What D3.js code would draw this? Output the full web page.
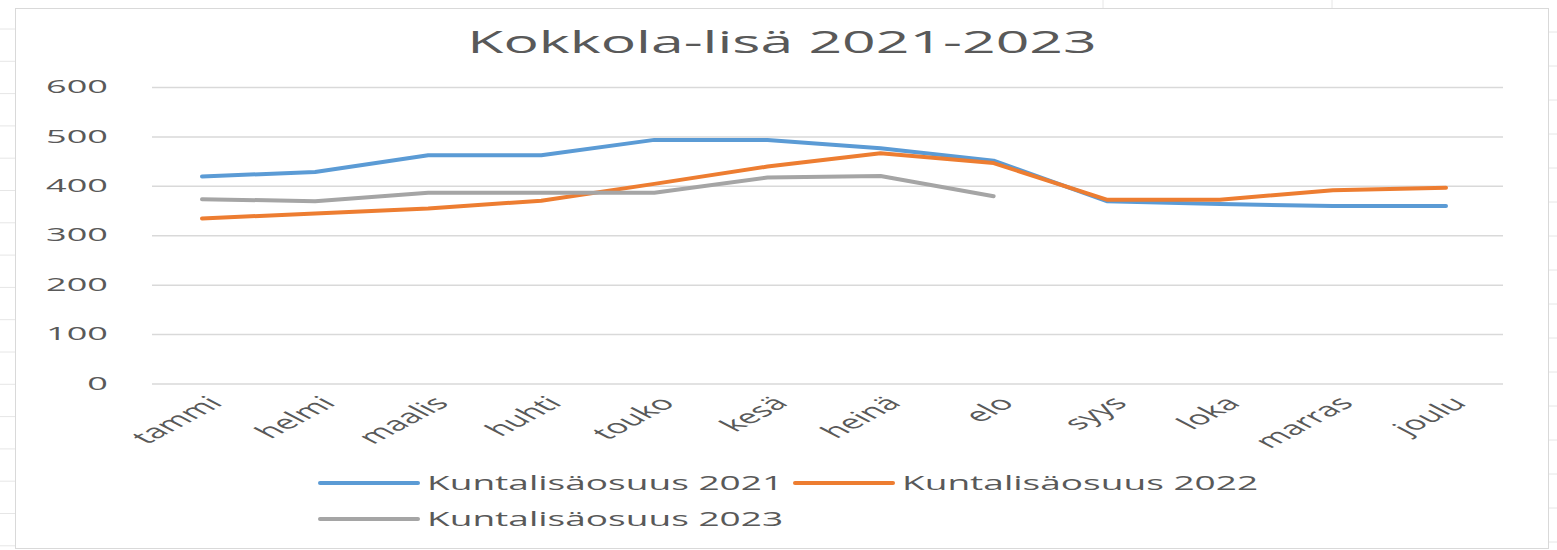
<!DOCTYPE html>
<html>
<head>
<meta charset="utf-8">
<script src="https://cdn.jsdelivr.net/npm/d3@7"></script>
<style>
  body { margin: 0; background: #fff; }
  text { font-family: "Open Sans", sans-serif; fill: #595959; }
</style>
</head>
<body>
<div id="chart"></div>
<script>
// Chart data
const months = ["tammi", "helmi", "maalis", "huhti", "touko", "kesä", "heinä", "elo", "syys", "loka", "marras", "joulu"];
const seriesNames = ["Kuntalisäosuus 2021", "Kuntalisäosuus 2022", "Kuntalisäosuus 2023"];
const values2021 = [420, 429, 463, 463, 494, 494, 477, 452, 370, 364, 360, 360];
const values2022 = [335, 345, 355, 371, 405, 440, 467, 447, 373, 373, 392, 397];
const values2023 = [374, 370, 387, 387, 387, 418, 421, 380, null, null, null, null];
const yTicks = [0, 100, 200, 300, 400, 500, 600];

const width = 1557, height = 550;
const SX = 1.9; // the original picture is stretched sideways
const colors = ["#5B9BD5", "#ED7D31", "#A5A5A5"];
const series = [values2021, values2022, values2023];

const svg = d3.select("#chart")
    .append("svg")
    .attr("width", width)
    .attr("height", height);

// spreadsheet cell lines peeking out around the chart
svg.append("g").selectAll("line")
    .data(d3.range(29, 550, 32.3))
    .enter().append("line")
    .attr("x1", 0).attr("x2", 15)
    .attr("y1", d => d).attr("y2", d => d)
    .attr("stroke", "#e6e6e6");
svg.append("g").selectAll("line")
    .data(d3.range(32, 550, 34))
    .enter().append("line")
    .attr("x1", 1549).attr("x2", 1557)
    .attr("y1", d => d).attr("y2", d => d)
    .attr("stroke", "#e6e6e6");
svg.append("g").selectAll("line")
    .data([1103, 1332])
    .enter().append("line")
    .attr("x1", d => d).attr("x2", d => d)
    .attr("y1", 0).attr("y2", 8)
    .attr("stroke", "#e6e6e6");

// chart border
svg.append("rect")
    .attr("x", 15.5).attr("y", 8.5)
    .attr("width", 1533).attr("height", 540)
    .attr("fill", "#fff")
    .attr("stroke", "#d9d9d9");

// scales
const xScale = d3.scalePoint()
    .domain(months)
    .range([202, 1446]);

const yScale = d3.scaleLinear()
    .domain([0, 600])
    .range([384, 87.5]);

// gridlines
svg.append("g").selectAll("line")
    .data(yTicks)
    .enter().append("line")
    .attr("x1", 152).attr("x2", 1503)
    .attr("y1", d => yScale(d)).attr("y2", d => yScale(d))
    .attr("stroke", "#d9d9d9")
    .attr("stroke-width", 1.5);

// y labels
svg.append("g").selectAll("text")
    .data(yTicks)
    .enter().append("text")
    .attr("transform", d => `translate(108,${yScale(d)}) scale(${SX},1)`)
    .attr("text-anchor", "end")
    .attr("dy", "0.3em")
    .style("font-size", "19px")
    .text(d => d);

// x labels, rotated
svg.append("g").selectAll("text")
    .data(months)
    .enter().append("text")
    .attr("transform", d => `translate(${xScale(d) + 4},395) scale(${SX},1) rotate(-45)`)
    .attr("text-anchor", "end")
    .attr("dy", "0.7em")
    .style("font-size", "19px")
    .text(d => d);

// lines
const line = d3.line()
    .defined(d => d != null)
    .x((d, i) => xScale(months[i]))
    .y(d => yScale(d));

svg.append("g").selectAll("path")
    .data(series)
    .enter().append("path")
    .attr("d", d => line(d))
    .attr("fill", "none")
    .attr("stroke", (d, i) => colors[i])
    .attr("stroke-width", 4)
    .attr("stroke-linejoin", "round")
    .attr("stroke-linecap", "round");

// title
svg.append("text")
    .attr("transform", `translate(782,53) scale(${SX},1)`)
    .attr("text-anchor", "middle")
    .style("font-size", "31px")
    .text("Kokkola-lisä 2021-2023");

// legend
const legendPos = [{ x: 320, y: 483 }, { x: 795, y: 483 }, { x: 320, y: 519 }];
const legend = svg.append("g").selectAll("g")
    .data(seriesNames)
    .enter().append("g")
    .attr("transform", (d, i) => `translate(${legendPos[i].x},${legendPos[i].y})`);

legend.append("line")
    .attr("x1", 0).attr("x2", 98)
    .attr("stroke", (d, i) => colors[i])
    .attr("stroke-width", 4)
    .attr("stroke-linecap", "round");

legend.append("text")
    .attr("transform", `translate(107,0) scale(${SX},1)`)
    .attr("dy", "0.35em")
    .style("font-size", "19.5px")
    .text(d => d);
</script>
</body>
</html>
